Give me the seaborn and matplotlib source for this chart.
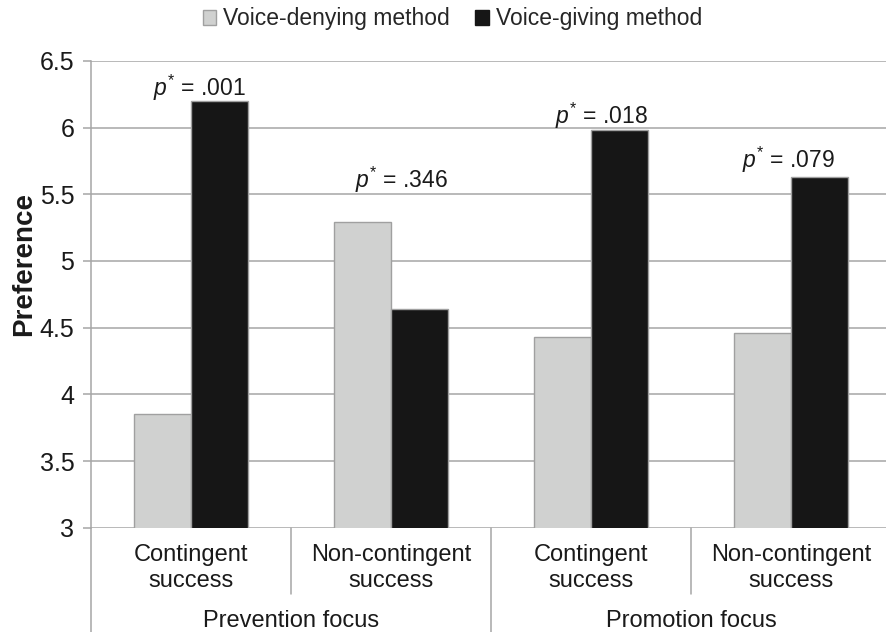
import pandas as pd
import matplotlib.pyplot as plt
import seaborn as sns
from matplotlib.patches import Patch
import matplotlib.transforms as mtransforms

# values
focus = ["Prevention focus", "Prevention focus", "Promotion focus", "Promotion focus"]
success = ["Contingent\nsuccess", "Non-contingent\nsuccess", "Contingent\nsuccess", "Non-contingent\nsuccess"]
voice_denying = [3.85, 5.29, 4.43, 4.46]
voice_giving = [6.20, 4.64, 5.98, 5.63]
p_values = [".001", ".346", ".018", ".079"]
methods = ["Voice-denying method", "Voice-giving method"]

# where each p label sits (x offset from group centre, y in data units)
p_dx = [0.04, 0.05, 0.05, -0.015]
p_y = [6.30, 5.61, 6.085, 5.755]

GRAY = "#d0d1d0"
BLACK = "#161616"
LINE = "#a6a6a6"
TXT = "#1a1a1a"

sns.set_theme(style="white")
plt.rcParams["font.family"] = ["Liberation Sans", "DejaVu Sans"]
plt.rcParams["mathtext.fontset"] = "custom"
plt.rcParams["mathtext.it"] = "Liberation Sans:italic"
plt.rcParams["mathtext.rm"] = "Liberation Sans"

conds = [f"{f}|{s}" for f, s in zip(focus, success)]
df = pd.DataFrame({
    "condition": conds * 2,
    "preference": voice_denying + voice_giving,
    "method": [methods[0]] * 4 + [methods[1]] * 4,
})

fig = plt.figure(figsize=(8.87, 6.32), dpi=100)
ax = fig.add_axes([91 / 887, (632 - 527.7) / 632, 800 / 887, (527.7 - 60.8) / 632])

sns.barplot(data=df, x="condition", y="preference", hue="method", order=conds,
            hue_order=methods, palette=[GRAY, BLACK], width=0.57,
            edgecolor="#a0a0a0", linewidth=1, ax=ax, legend=False)

ax.set_ylim(3, 6.5)
ax.set_xlim(-0.5, 3.5)
ax.set_yticks([3, 3.5, 4, 4.5, 5, 5.5, 6, 6.5])
ax.set_yticklabels(["3", "3.5", "4", "4.5", "5", "5.5", "6", "6.5"])
ax.set_xticks(range(4))
ax.set_xticklabels(success, linespacing=1.2)
ax.set_xlabel("")
ax.set_ylabel("")
ax.yaxis.grid(True, color=LINE, linewidth=1.1)
ax.set_axisbelow(True)
for s in ["top", "right", "bottom"]:
    ax.spines[s].set_visible(False)
ax.spines["left"].set_color(LINE)
ax.spines["left"].set_linewidth(1.1)
ax.tick_params(axis="y", length=6, width=1.1, color=LINE, direction="out",
               labelsize=18, pad=6, left=True, labelcolor=TXT)
ax.tick_params(axis="x", length=0, labelsize=17, pad=12, labelcolor=TXT)

# separators and group labels under the axis
trans = mtransforms.blended_transform_factory(ax.transData, ax.transAxes)
for x in [0.5, 2.5]:
    ax.plot([x, x], [0, -0.142], color=LINE, lw=1.1, transform=trans, clip_on=False)
for x in [-0.5, 1.5]:
    ax.plot([x, x], [0, -0.25], color=LINE, lw=1.1, transform=trans, clip_on=False)
for x, name in [(0.5, "Prevention focus"), (2.5, "Promotion focus")]:
    ax.text(x, -0.2, name, transform=trans, ha="center", va="center",
            fontsize=17, color=TXT)

# p value labels
for i, p in enumerate(p_values):
    ax.text(i + p_dx[i], p_y[i], r"$p^{*}$ = " + p, ha="center", va="center",
            fontsize=16.5, color=TXT)

fig.text(24 / 887, 0.582, "Preference", rotation=90, ha="center", va="center",
         fontsize=20, fontweight="bold", color=TXT)

handles = [Patch(facecolor=GRAY, edgecolor="#a0a0a0", linewidth=1),
           Patch(facecolor=BLACK, edgecolor=BLACK, linewidth=1)]
fig.legend(handles, methods, loc="center", bbox_to_anchor=(0.51, 0.97), ncol=2,
           frameon=False, fontsize=16.5, handlelength=0.6, handleheight=0.6,
           handletextpad=0.3, columnspacing=1.1)

fig.savefig("out.png", dpi=100)
